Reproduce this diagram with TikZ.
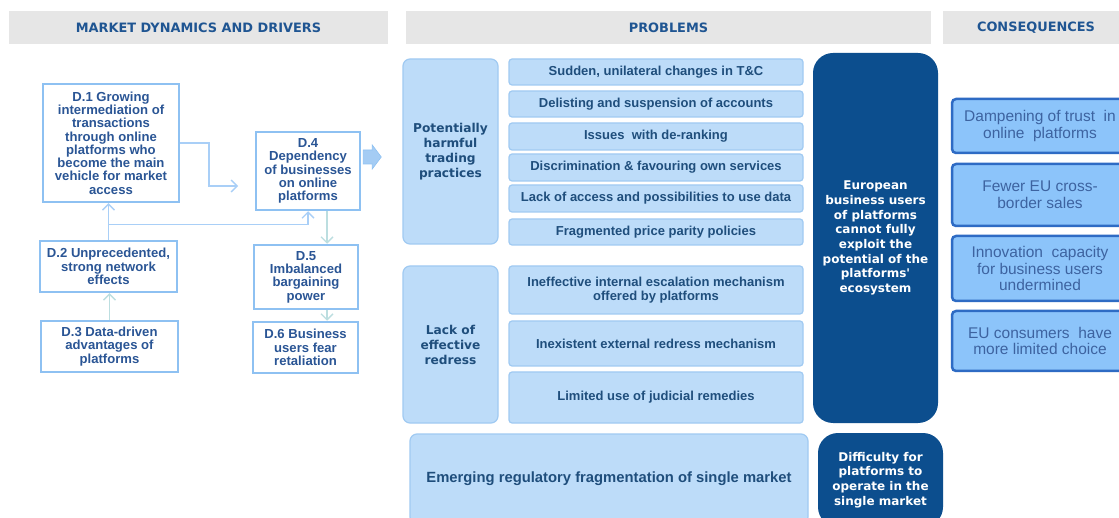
\documentclass[tikz,border=0pt]{standalone}
\usepackage{fontspec}
\setmainfont{Liberation Sans}
\newfontfamily\vfont{DejaVu Sans}
\usetikzlibrary{arrows.meta,calc}
\definecolor{hdrfill}{HTML}{E6E6E6}
\definecolor{hdrtext}{HTML}{1F5592}
\definecolor{drvline}{HTML}{8EC1F2}
\definecolor{drvtext}{HTML}{2A5595}
\definecolor{itemfill}{HTML}{BDDCF9}
\definecolor{itemline}{HTML}{A0CAF2}
\definecolor{probtext}{HTML}{1F4E7C}
\definecolor{darkblue}{HTML}{0C4E8E}
\definecolor{consfill}{HTML}{8CC4FA}
\definecolor{consline}{HTML}{2E6BC4}
\definecolor{constext}{HTML}{3D63A0}
\definecolor{connblue}{HTML}{A9CFF7}
\definecolor{connteal}{HTML}{BCDEE0}
\definecolor{bigarrow}{HTML}{A4CCF4}
\begin{document}
\begin{tikzpicture}[x=1pt,y=-1pt,
  hdr/.style={fill=hdrfill, draw=none, text=hdrtext, font=\vfont\bfseries\fontsize{12.9}{14}\selectfont, inner sep=0pt},
  drv/.style={draw=drvline, line width=2.5pt, fill=white, text=drvtext, font=\bfseries\fontsize{13.1}{13.3}\selectfont, align=center, inner sep=1pt},
  item/.style={draw=itemline, line width=1.2pt, fill=itemfill, rounded corners=3pt, text=probtext, font=\bfseries\fontsize{13}{14}\selectfont, align=center, inner sep=0pt},
  grp/.style={item, rounded corners=7pt, font=\vfont\bfseries\fontsize{12.2}{15}\selectfont},
  dark/.style={fill=darkblue, rounded corners=20pt, text=white, font=\vfont\bfseries\fontsize{12}{14.7}\selectfont, align=center, inner sep=0pt},
  cons/.style={draw=consline, line width=2.5pt, fill=consfill, rounded corners=4pt, text=constext, font=\fontsize{15.5}{16.7}\selectfont, align=center, inner sep=0pt},
  conn/.style={draw=connblue, line width=1.3pt, -{Straight Barb[length=6pt,width=12pt]}},
  connt/.style={conn, draw=connteal}
]
\useasboundingbox (0,0) rectangle (1119,518);
\clip (0,0) rectangle (1119,518);
\fill[white] (0,0) rectangle (1119,518);

% headers
\node[hdr, minimum width=379pt, minimum height=33pt] (h1) at (198.5,27.5) {MARKET DYNAMICS AND DRIVERS};
\node[hdr, minimum width=525pt, minimum height=33pt] (h2) at (668.5,27.5) {PROBLEMS};
\node[hdr, minimum width=186pt, minimum height=33pt] (h3) at (1036,27.5) {CONSEQUENCES};

% drivers
\node[drv, minimum width=136pt, minimum height=118pt] (d1) at (111,143) {D.1 Growing\\intermediation of\\transactions\\through online\\platforms who\\become the main\\vehicle for market\\access};
\node[drv, minimum width=104pt, minimum height=78pt] (d4) at (308,171) {D.4\\Dependency\\of businesses\\on online\\platforms};
\node[drv, minimum width=137pt, minimum height=51pt] (d2) at (108.5,266.5) {D.2 Unprecedented,\\strong network\\effects};
\node[drv, minimum width=137pt, minimum height=51pt] (d3) at (109.5,346.5) {D.3 Data-driven\\advantages of\\platforms};
\node[drv, minimum width=104pt, minimum height=64pt] (d5) at (306,277) {D.5\\Imbalanced\\bargaining\\power};
\node[drv, minimum width=105pt, minimum height=51pt] (d6) at (305.5,347.5) {D.6 Business\\users fear\\retaliation};

% connectors
\coordinate (k14) at (209,186);
\coordinate (a14) at (238,186);
\draw[conn] (d1.east) -| (k14) -- (a14);
\draw[conn] (d2.north) -- (d2.north |- d1.south);
\draw[conn] (d2.north) -- ++(0,-15) -| (d4.south);
\draw[connt] ($(d4.south)+(19,0)$) -- ($(d5.north)+(21,0)$);
\draw[connt] (d3.north) -- (d3.north |- d2.south);
\draw[connt] ($(d5.south)+(21,0)$) -- ($(d6.north)+(21.5,0)$);

% big arrow out of D.4
\filldraw[fill=bigarrow, draw=drvline, line width=0.6pt] ($(d4.east)+(2,-21)$) -- ++(9,0) -- ++(0,-5) -- ++(9,12) -- ++(-9,12) -- ++(0,-5) -- ++(-9,0) -- cycle;

% problems
\node[grp, minimum width=95pt, minimum height=185pt] (p1) at (450.5,151.5) {Potentially\\harmful\\trading\\practices};
\node[item, minimum width=294pt, minimum height=26pt] (i1) at (656,72) {Sudden, unilateral changes in T\&C};
\node[item, minimum width=294pt, minimum height=26pt] (i2) at (656,104) {Delisting and suspension of accounts};
\node[item, minimum width=294pt, minimum height=27pt] (i3) at (656,136.5) {Issues\ \ with de-ranking};
\node[item, minimum width=294pt, minimum height=27pt] (i4) at (656,167.5) {Discrimination \& favouring own services};
\node[item, minimum width=294pt, minimum height=27pt] (i5) at (656,198.5) {Lack of access and possibilities to use data};
\node[item, minimum width=294pt, minimum height=26pt] (i6) at (656,232) {Fragmented price parity policies};

\node[grp, minimum width=95pt, minimum height=157pt] (p2) at (450.5,344.5) {Lack of\\effective\\redress};
\node[item, minimum width=294pt, minimum height=48pt] (j1) at (656,290) {Ineffective internal escalation mechanism\\offered by platforms};
\node[item, minimum width=294pt, minimum height=45pt] (j2) at (656,343.5) {Inexistent external redress mechanism};
\node[item, minimum width=294pt, minimum height=51pt] (j3) at (656,397.5) {Limited use of judicial remedies};

\node[item, rounded corners=7pt, minimum width=398pt, minimum height=90pt, font=\bfseries\fontsize{14.8}{16}\selectfont] (e1) at (609,479) {Emerging regulatory fragmentation of single market};

% dark boxes
\node[dark, minimum width=125pt, minimum height=370pt] (b1) at (875.5,238) {European\\business users\\of platforms\\cannot fully\\exploit the\\potential of the\\platforms'\\ecosystem};
\node[dark, minimum width=125pt, minimum height=94pt] (b2) at (880.5,480) {Difficulty for\\platforms to\\operate in the\\single market};

% consequences
\node[cons, minimum width=176pt, minimum height=54pt] (c1) at (1040,126) {Dampening of trust\ \ in\\online\ \ platforms};
\node[cons, minimum width=176pt, minimum height=62pt] (c2) at (1040,195) {Fewer EU cross-\\border sales};
\node[cons, minimum width=176pt, minimum height=65pt] (c3) at (1040,268.5) {Innovation\ \ capacity\\for business users\\undermined};
\node[cons, minimum width=176pt, minimum height=60pt] (c4) at (1040,341) {EU consumers\ \ have\\more limited choice};
\end{tikzpicture}
\end{document}
